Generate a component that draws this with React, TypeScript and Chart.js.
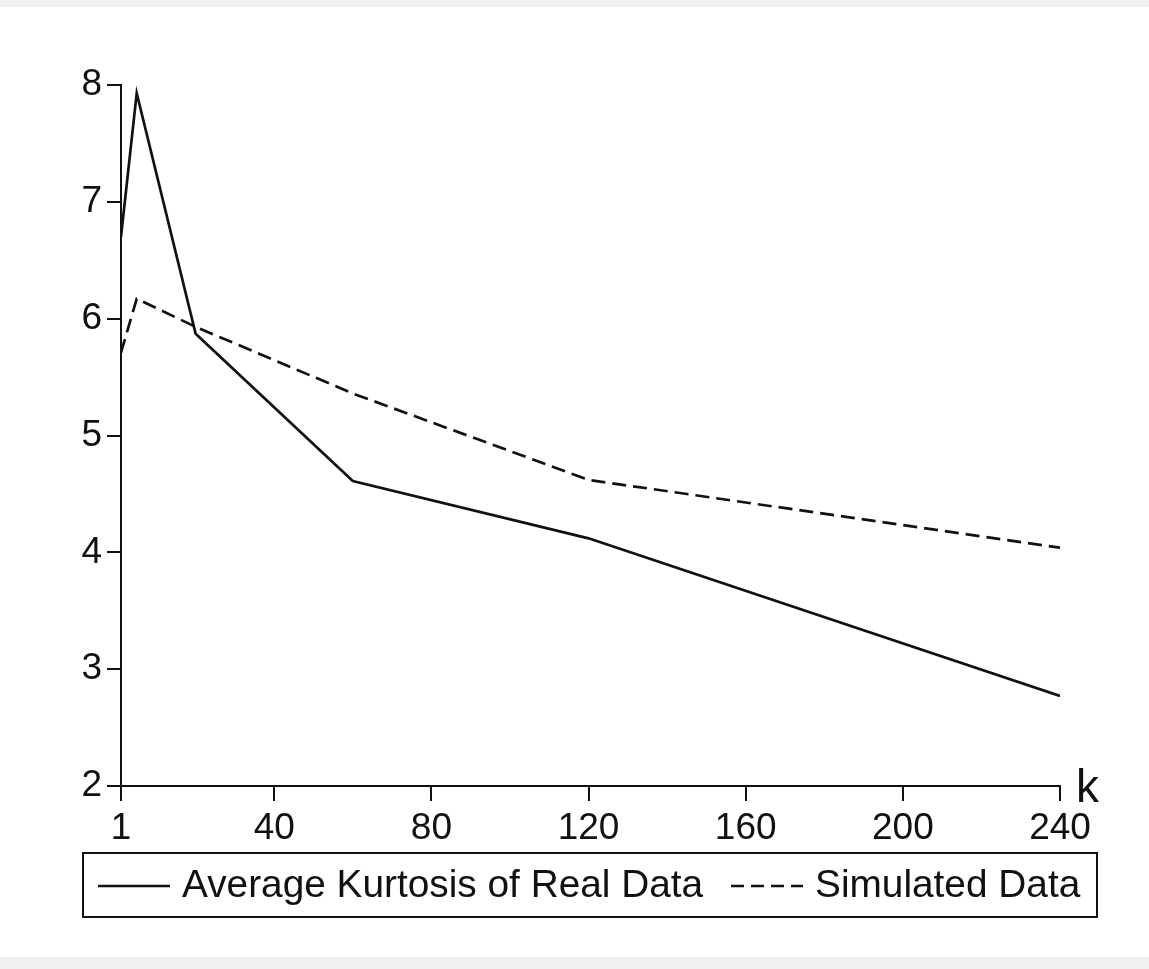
import React, { useEffect, useRef } from "react";
import { Chart, registerables } from "chart.js";

Chart.register(...registerables);

const K_VALUES = [1, 5, 20, 60, 120, 240];
const REAL_KURTOSIS = [6.7, 7.93, 5.87, 4.61, 4.12, 2.77];
const SIMULATED_KURTOSIS = [5.71, 6.17, 5.93, 5.36, 4.62, 4.04];
const X_TICKS = [1, 40, 80, 120, 160, 200, 240];
const Y_MIN = 2;
const Y_MAX = 8;
const REAL_LABEL = "Average Kurtosis of Real Data";
const SIM_LABEL = "Simulated Data";
const X_AXIS_LABEL = "k";

const FONT_FAMILY = '"Liberation Sans", Arial, sans-serif';
const INK = "#111111";
const DASH = [14, 7];

const decorPlugin = {
  id: "decor",
  beforeDraw(chart: any) {
    const { ctx, width, height } = chart;
    ctx.save();
    ctx.fillStyle = "#ffffff";
    ctx.fillRect(0, 0, width, height);
    ctx.fillStyle = "#f0f0f0";
    ctx.fillRect(0, 0, width, 7);
    ctx.fillRect(0, 957, width, height - 957);
    ctx.restore();
  },
  afterDraw(chart: any) {
    const { ctx, chartArea } = chart;
    ctx.save();
    // axis label "k"
    ctx.fillStyle = INK;
    ctx.font = `46px ${FONT_FAMILY}`;
    ctx.textBaseline = "alphabetic";
    ctx.textAlign = "left";
    ctx.fillText(X_AXIS_LABEL, chartArea.right + 16, chartArea.bottom + 16);

    // legend box
    const boxL = chartArea.left - 38;
    const boxR = chartArea.right + 37;
    const boxT = chartArea.bottom + 67;
    const boxB = chartArea.bottom + 131;
    ctx.strokeStyle = INK;
    ctx.lineWidth = 2;
    ctx.setLineDash([]);
    ctx.strokeRect(boxL, boxT, boxR - boxL, boxB - boxT);

    const lineY = chartArea.bottom + 100;
    const textY = chartArea.bottom + 111;
    ctx.font = `38.8px ${FONT_FAMILY}`;
    ctx.textBaseline = "alphabetic";

    const ds = chart.data.datasets;
    // item 1
    ctx.lineWidth = 2.6;
    ctx.setLineDash(ds[0].borderDash || []);
    ctx.beginPath();
    ctx.moveTo(boxL + 15, lineY);
    ctx.lineTo(boxL + 87, lineY);
    ctx.stroke();
    ctx.setLineDash([]);
    ctx.fillText(ds[0].label, boxL + 99, textY);

    // item 2
    const x2 = boxL + 648;
    ctx.setLineDash([13, 7]);
    ctx.beginPath();
    ctx.moveTo(x2, lineY);
    ctx.lineTo(x2 + 72, lineY);
    ctx.stroke();
    ctx.setLineDash([]);
    ctx.fillText(ds[1].label, x2 + 84, textY);
    ctx.restore();
  },
};

export default function App() {
  const canvasRef = useRef<HTMLCanvasElement | null>(null);

  useEffect(() => {
    if (!canvasRef.current) return;
    const chart = new Chart(canvasRef.current, {
      type: "line",
      data: {
        datasets: [
          {
            label: REAL_LABEL,
            data: K_VALUES.map((k, i) => ({ x: k, y: REAL_KURTOSIS[i] })),
            borderColor: INK,
            borderWidth: 2.7,
            pointRadius: 0,
            tension: 0,
            fill: false,
          },
          {
            label: SIM_LABEL,
            data: K_VALUES.map((k, i) => ({ x: k, y: SIMULATED_KURTOSIS[i] })),
            borderColor: INK,
            borderWidth: 2.7,
            borderDash: DASH,
            pointRadius: 0,
            tension: 0,
            fill: false,
          },
        ],
      },
      options: {
        animation: false,
        responsive: false,
        devicePixelRatio: 1,
        layout: { padding: { left: 0, top: 85, right: 89, bottom: 123 } },
        plugins: {
          legend: { display: false },
          tooltip: { enabled: false },
          title: { display: false },
        },
        scales: {
          x: {
            type: "linear",
            min: X_TICKS[0],
            max: X_TICKS[X_TICKS.length - 1],
            afterBuildTicks: (scale: any) => {
              scale.ticks = X_TICKS.map((v) => ({ value: v }));
            },
            afterFit: (scale: any) => {
              scale.height = 60;
            },
            grid: {
              drawOnChartArea: false,
              drawTicks: true,
              tickLength: 15,
              lineWidth: 2,
              color: INK,
            },
            border: { display: true, width: 2, color: INK },
            ticks: {
              color: INK,
              font: { family: FONT_FAMILY, size: 37 },
              padding: 6,
              maxRotation: 0,
              autoSkip: false,
              callback: (v: any) => String(v),
            },
          },
          y: {
            type: "linear",
            min: Y_MIN,
            max: Y_MAX,
            afterFit: (scale: any) => {
              scale.width = 121;
            },
            grid: {
              drawOnChartArea: false,
              drawTicks: true,
              tickLength: 14,
              lineWidth: 2,
              color: INK,
            },
            border: { display: true, width: 2, color: INK },
            ticks: {
              stepSize: 1,
              color: INK,
              font: { family: FONT_FAMILY, size: 37 },
              padding: 5,
            },
          },
        },
      },
      plugins: [decorPlugin],
    });
    return () => chart.destroy();
  }, []);

  return (
    <div style={{ position: "absolute", left: 0, top: 0, width: 1149, height: 969 }}>
      <canvas
        ref={canvasRef}
        width={1149}
        height={969}
        style={{ display: "block", width: 1149, height: 969 }}
      />
    </div>
  );
}
